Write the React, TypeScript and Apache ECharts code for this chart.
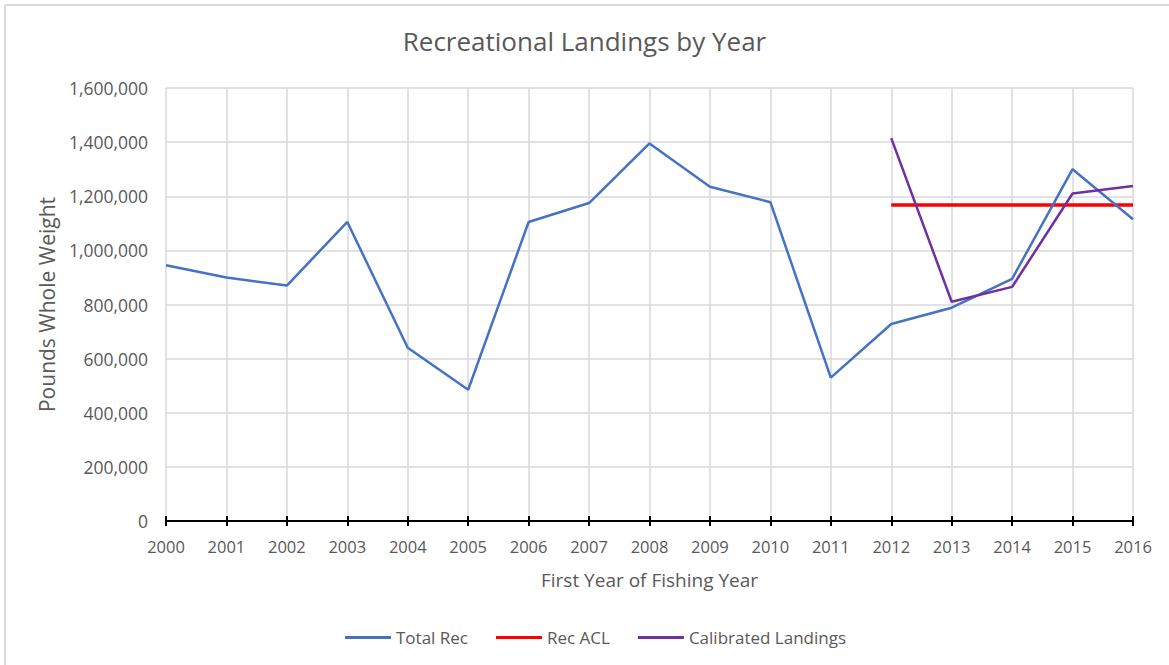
import React, { useEffect, useRef } from "react";
import * as echarts from "echarts";

const years = ["2000","2001","2002","2003","2004","2005","2006","2007","2008","2009","2010","2011","2012","2013","2014","2015","2016"];
const totalRec = [945000, 900000, 870000, 1105000, 640000, 485000, 1105000, 1175000, 1395000, 1235000, 1178000, 530000, 728000, 788000, 895000, 1300000, 1115000];
const recACL = [null, null, null, null, null, null, null, null, null, null, null, null, 1168000, 1168000, 1168000, 1168000, 1168000];
const calibrated = [null, null, null, null, null, null, null, null, null, null, null, null, 1415000, 810000, 865000, 1210000, 1238000];

const FONT = "'Open Sans', sans-serif";
const GRAY = "#595959";

export default function App() {
  const ref = useRef<HTMLDivElement>(null);
  useEffect(() => {
    const chart = echarts.init(ref.current!, null, { renderer: "svg" });
    chart.setOption({
      animation: false,
      backgroundColor: "#ffffff",
      title: {
        text: "Recreational Landings by Year",
        left: "center",
        top: 23,
        textStyle: { fontFamily: FONT, fontSize: 26, fontWeight: "normal", color: GRAY },
      },
      legend: {
        bottom: 14,
        left: 340,
        itemWidth: 46,
        itemHeight: 3,
        itemGap: 28,
        icon: "rect",
        textStyle: { fontFamily: FONT, fontSize: 17, color: GRAY },
        data: ["Total Rec", "Rec ACL", "Calibrated Landings"],
      },
      graphic: [
        { type: "line", shape: { x1: 5, y1: 5, x2: 1169, y2: 5 }, style: { stroke: "#d9d9d9", lineWidth: 2 } },
        { type: "line", shape: { x1: 5, y1: 5, x2: 5, y2: 665 }, style: { stroke: "#d9d9d9", lineWidth: 2 } },
      ],
      grid: { left: 166, right: 36, top: 88, bottom: 144 },
      xAxis: [
        {
          type: "category",
          data: years,
          boundaryGap: false,
          name: "First Year of Fishing Year",
          nameLocation: "middle",
          nameGap: 49,
          nameTextStyle: { fontFamily: FONT, fontSize: 19, color: GRAY },
          axisLine: { lineStyle: { color: "#000000", width: 2 } },
          axisTick: { show: true, length: 5, interval: 0, lineStyle: { color: "#000000", width: 2 } },
          axisLabel: { fontFamily: FONT, fontSize: 16.5, color: GRAY, margin: 17, interval: 0 },
          splitLine: { show: true, lineStyle: { color: "#d9d9d9", width: 1.5 } },
        },
        {
          type: "category",
          data: years,
          boundaryGap: false,
          position: "bottom",
          axisLine: { show: false },
          axisTick: { show: true, inside: true, length: 5, interval: 0, lineStyle: { color: "#000000", width: 2 } },
          axisLabel: { show: false },
          splitLine: { show: false },
        },
      ],
      yAxis: {
        type: "value",
        min: 0,
        max: 1600000,
        interval: 200000,
        name: "Pounds Whole Weight",
        nameLocation: "middle",
        nameGap: 109,
        nameTextStyle: { fontFamily: FONT, fontSize: 21, color: GRAY },
        axisLine: { show: false },
        axisTick: { show: false },
        axisLabel: {
          fontFamily: FONT,
          fontSize: 17.5,
          color: GRAY,
          margin: 18,
          formatter: (v: number) => v.toLocaleString("en-US"),
        },
        splitLine: { lineStyle: { color: "#d9d9d9", width: 1.5 } },
      },
      series: [
        {
          name: "Total Rec",
          type: "line",
          data: totalRec,
          symbol: "none",
          color: "#4472c4",
          lineStyle: { color: "#4472c4", width: 2.5 },
          z: 3,
        },
        {
          name: "Rec ACL",
          type: "line",
          data: recACL,
          symbol: "none",
          color: "#ff0000",
          lineStyle: { color: "#ff0000", width: 3.5 },
          z: 2,
        },
        {
          name: "Calibrated Landings",
          type: "line",
          data: calibrated,
          symbol: "none",
          color: "#7030a0",
          lineStyle: { color: "#7030a0", width: 2.5 },
          z: 4,
        },
      ],
    });
    return () => chart.dispose();
  }, []);
  return <div ref={ref} style={{ position: "fixed", left: 0, top: 0, width: 1169, height: 665 }} />;
}
